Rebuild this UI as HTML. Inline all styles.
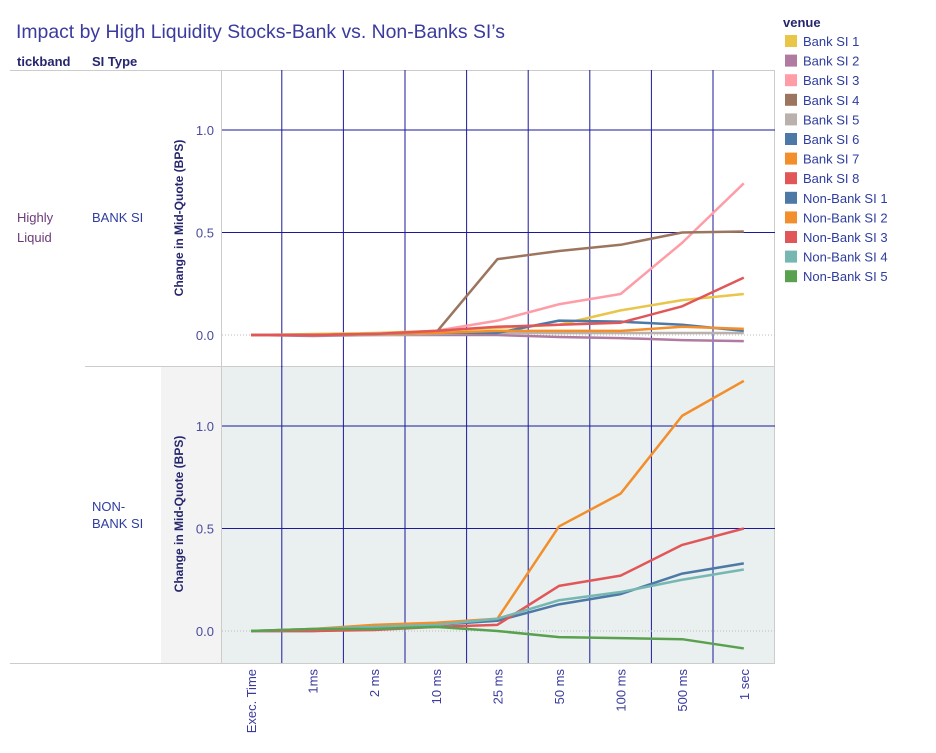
<!DOCTYPE html>
<html><head><meta charset="utf-8"><style>
body{margin:0;background:#fff;width:936px;height:748px;overflow:hidden;font-family:"Liberation Sans",sans-serif}
svg text{font-family:"Liberation Sans",sans-serif}
</style></head><body>
<svg id="c" width="936" height="748">
<text x="16" y="38" font-size="19.4" fill="#3b3b9e">Impact by High Liquidity Stocks-Bank vs. Non-Banks SI’s</text>
<text x="17" y="66" font-size="13" font-weight="bold" fill="#26266e">tickband</text>
<text x="92" y="66" font-size="13" font-weight="bold" fill="#26266e">SI Type</text>
<line x1="10" y1="70.5" x2="775" y2="70.5" stroke="#ccc"/>
<rect x="161" y="366" width="61" height="297" fill="#f3f3f3"/>
<rect x="222" y="366" width="553" height="297" fill="#eaf0ef"/>
<line x1="221.5" y1="70" x2="221.5" y2="663" stroke="#ccc"/>
<line x1="774.5" y1="70" x2="774.5" y2="663" stroke="#ccc"/>
<line x1="85" y1="366.5" x2="775" y2="366.5" stroke="#ccc"/>
<line x1="10" y1="663.5" x2="775" y2="663.5" stroke="#ccc"/>
<text x="17" y="222" font-size="13" fill="#6b3a7a">Highly</text>
<text x="17" y="242" font-size="13" fill="#6b3a7a">Liquid</text>
<text x="92" y="222" font-size="13" fill="#2e3d9e">BANK SI</text>
<text x="92" y="511" font-size="13" fill="#2e3d9e">NON-</text>
<text x="92" y="528" font-size="13" fill="#2e3d9e">BANK SI</text>
<g id="g"></g>
<g id="lg"></g>
</svg>
<script>
const categories=["Exec. Time","1ms","2 ms","10 ms","25 ms","50 ms","100 ms","500 ms","1 sec"];
const yTicks=[0,0.5,1.0];
const yTickLabels=["0.0","0.5","1.0"];
const bankNames=["Bank SI 1","Bank SI 2","Bank SI 3","Bank SI 4","Bank SI 5","Bank SI 6","Bank SI 7","Bank SI 8"];
const bankSI1=[0,0.005,0.01,0.02,0.035,0.05,0.12,0.17,0.2];
const bankSI2=[0,-0.005,0,0,0,-0.01,-0.015,-0.025,-0.03];
const bankSI3=[0,0,0.005,0.02,0.07,0.15,0.2,0.45,0.74];
const bankSI4=[0,0,0.005,0.01,0.37,0.41,0.44,0.5,0.505];
const bankSI5=[0,0,0,0.005,0.01,0.01,0.01,0.01,0.01];
const bankSI6=[0,0,0.005,0.01,0.01,0.07,0.065,0.05,0.02];
const bankSI7=[0,0,0.005,0.01,0.02,0.02,0.02,0.04,0.03];
const bankSI8=[0,0,0.005,0.02,0.04,0.05,0.06,0.14,0.28];
const nonBankNames=["Non-Bank SI 1","Non-Bank SI 2","Non-Bank SI 3","Non-Bank SI 4","Non-Bank SI 5"];
const nonBankSI1=[0,0,0.01,0.03,0.05,0.13,0.18,0.28,0.33];
const nonBankSI2=[0,0.01,0.03,0.04,0.06,0.51,0.67,1.05,1.22];
const nonBankSI3=[0,0,0.005,0.02,0.03,0.22,0.27,0.42,0.5];
const nonBankSI4=[0,0.01,0.02,0.03,0.06,0.15,0.19,0.25,0.3];
const nonBankSI5=[0,0.01,0.01,0.02,0,-0.03,-0.035,-0.04,-0.085];
const bankColors=["#e9c54a","#b07aa1","#ff9da7","#9c755f","#bab0ac","#4e79a7","#f28e2b","#e15759"];
const nbColors=["#4e79a7","#f28e2b","#e15759","#76b7b2","#59a14f"];
const NS="http://www.w3.org/2000/svg";
const g=document.getElementById('g'),lg=document.getElementById('lg');
function mk(t,a,p){const e=document.createElementNS(NS,t);for(const k in a)e.setAttribute(k,a[k]);(p||g).appendChild(e);return e;}
const step=61.6,x0=251;
function xS(i){return x0+i*step;}
function panel(zeroY,series,names,colors,tag){
  const yS=v=>zeroY-v*205;
  for(let i=0;i<categories.length-1;i++){
    const gl=mk('line',{x1:xS(i)+step/2,x2:xS(i)+step/2,y1:zeroY-265,y2:zeroY+32,stroke:'#1a1a9a','stroke-width':1});
    
    
  }
  yTicks.forEach((t,i)=>{
    const y=yS(t);
    if(t===0){mk('line',{x1:222,x2:775,y1:y,y2:y,stroke:'#bbb','stroke-dasharray':'1,2'});}
    else{const l=mk('line',{x1:222,x2:775,y1:y,y2:y,stroke:'#1a1a9a'});
    
    }
    const tx=mk('text',{x:214,y:y+5,'text-anchor':'end','font-size':13,fill:'#4a4a9e'});
    tx.textContent=yTickLabels[i];
    
    
  });
  const cy=zeroY-117;
  const at=mk('text',{x:0,y:0,transform:`translate(183,${cy}) rotate(-90)`,'text-anchor':'middle','font-size':12,'font-weight':'bold',fill:'#26266e'});
  at.textContent='Change in Mid-Quote (BPS)';
  
  
  series.forEach((s,k)=>{
    const p=mk('polyline',{points:s.map((v,i)=>xS(i)+','+yS(v)).join(' '),fill:'none',stroke:colors[k],'stroke-width':2.5,'stroke-linejoin':'round'});
    
    
  });
}
panel(335,[bankSI1,bankSI2,bankSI3,bankSI4,bankSI5,bankSI6,bankSI7,bankSI8],bankNames,bankColors,'bank');
panel(631,[nonBankSI1,nonBankSI2,nonBankSI3,nonBankSI4,nonBankSI5],nonBankNames,nbColors,'nonbank');
categories.forEach((c,i)=>{
  const t=mk('text',{x:0,y:0,transform:`translate(${xS(i)+5},669) rotate(-90)`,'text-anchor':'end','font-size':13,fill:'#3b3b9e'});
  t.textContent=c;
  
  
});
const lt=mk('text',{x:783,y:27,'font-size':13,'font-weight':'bold',fill:'#26266e'},lg);
lt.textContent='venue';


const allNames=bankNames.concat(nonBankNames),allColors=bankColors.concat(nbColors);
allNames.forEach((n,i)=>{
  const y=35+i*19.6;
  const r=mk('rect',{x:785,y:y,width:12,height:12,fill:allColors[i]},lg);
  
  
  const t=mk('text',{x:803,y:y+11,'font-size':13,fill:'#2e3d9e'},lg);
  t.textContent=n;
  
  
});
</script>
</body></html>
